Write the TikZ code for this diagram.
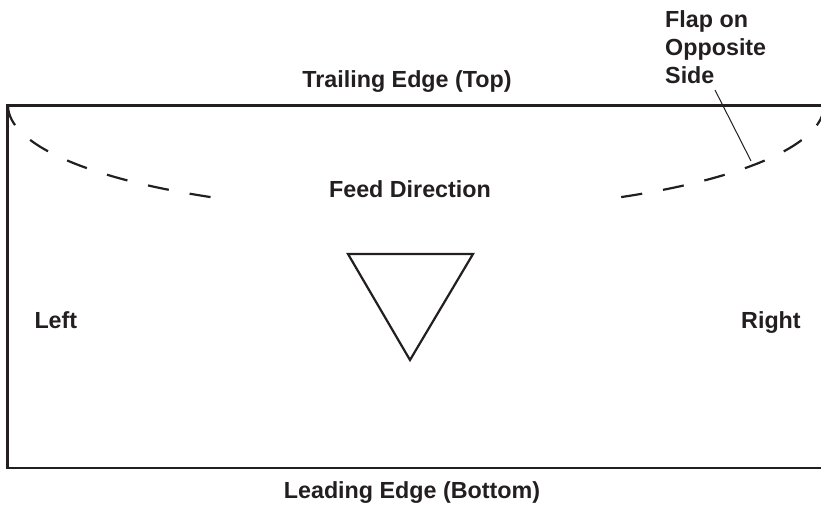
\documentclass[tikz,border=0pt]{standalone}
\usepackage{fontspec}
\setmainfont{Liberation Sans}
\definecolor{ink}{HTML}{231F20}

\begin{document}
\begin{tikzpicture}[x=1pt,y=1pt,
  every node/.style = {inner sep=0pt, text=ink,
    font=\fontsize{23.3}{28}\selectfont\bfseries},
  edge line/.style = {draw=ink, line width=2.2pt},
  flap line/.style = {draw=ink, line width=2.2pt,
    dash pattern=on 21.2pt off 21.2pt},
  leader line/.style = {draw=ink, line width=1pt}]
  \useasboundingbox (0,0) rectangle (821,504);
  % sheet outline (right side runs off the page)
  \coordinate (topleft) at (7.5,398.5);
  \coordinate (botleft) at (7.5,36.3);
  \draw[edge line, line join=miter] (830,398.5) -- (topleft) -- (botleft) -- (830,36.3);
  % flap on the opposite side
  \draw[flap line] (8,398.5) arc[start angle=180, end angle=239.8,
    x radius=408, y radius=106];
  \draw[flap line] (621.2,306.9) arc[start angle=300.2, end angle=360,
    x radius=408, y radius=106];
  % feed direction
  \draw[edge line, line join=miter] (348,250) -- (473,250) -- (410,144) -- cycle;
  \node[anchor=base] (trailing) at (407,416) {Trailing Edge (Top)};
  \node[anchor=base] (feed) at (410,306) {Feed Direction};
  \node[anchor=base west] (left) at (34.3,176) {Left};
  \node[anchor=base west] (right) at (741,176) {Right};
  \node[anchor=base] (leading) at (412,6) {Leading Edge (Bottom)};
  \node[anchor=north west, align=left] (flap) at (665,494) {Flap on\\Opposite\\Side};
  \coordinate (leaderstart) at (715,414);
  \coordinate (leaderend) at (751,343);
  \draw[leader line] (leaderstart) -- (leaderend);
\end{tikzpicture}
\end{document}
